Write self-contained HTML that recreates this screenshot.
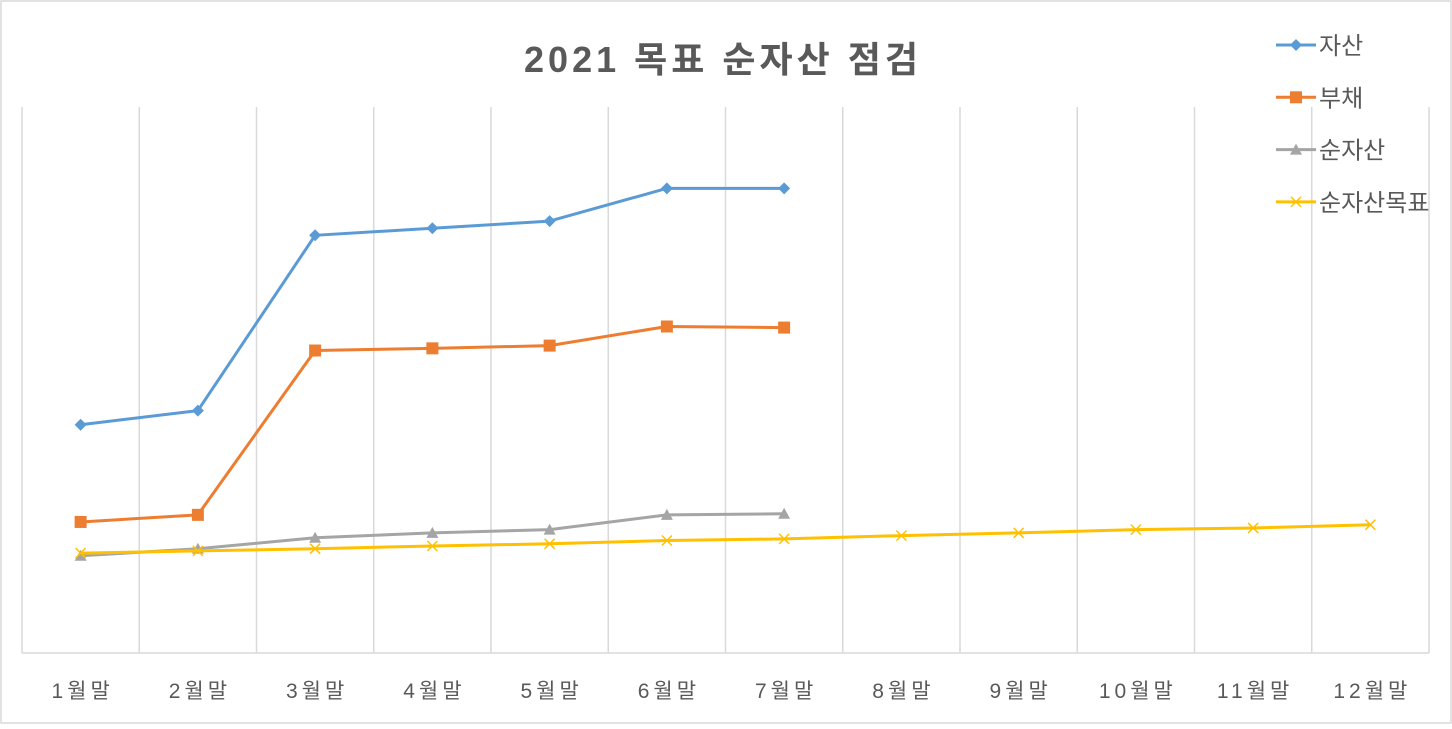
<!DOCTYPE html>
<html><head><meta charset="utf-8"><style>
body{margin:0;background:#fff;}
svg text{font-family:"Liberation Sans","Noto Sans CJK KR",sans-serif;}
</style></head><body>
<svg id="chart" width="1452" height="724" xmlns="http://www.w3.org/2000/svg">
<rect x="1" y="1" width="1450" height="722" fill="#fff" stroke="#d9d9d9" stroke-width="1.5"/>
<text x="723" y="72" text-anchor="middle" font-size="36" font-weight="bold" fill="#595959" letter-spacing="4">2021 목표 순자산 점검</text>
<g id="grid"></g><g id="series"></g><g id="xlabels"></g><g id="legend"></g>
</svg>
<script>
const categories=["1월말","2월말","3월말","4월말","5월말","6월말","7월말","8월말","9월말","10월말","11월말","12월말"];
const assets=[41.8,44.4,76.5,77.8,79.1,85.1,85.1];
const debts=[24.0,25.3,55.4,55.8,56.3,59.8,59.6];
const netAssets=[17.8,19.1,21.1,22.0,22.6,25.3,25.5];
const netTarget=[18.3,18.7,19.1,19.6,20.0,20.6,20.9,21.5,22.0,22.6,22.9,23.5];
const seriesNames=["자산","부채","순자산","순자산목표"];
const NS="http://www.w3.org/2000/svg";
const L=22,R=1429,T=107,B=653,yMax=100;
const bw=(R-L)/categories.length;
const xS=i=>L+bw*(i+0.5);
const yS=v=>B-(v/yMax)*(B-T);
function mk(t,a,p){const e=document.createElementNS(NS,t);for(const k in a)e.setAttribute(k,a[k]);p.appendChild(e);return e;}
const grid=document.getElementById('grid');
for(let i=0;i<=categories.length;i++){
 const l=mk('line',{x1:L+bw*i,x2:L+bw*i,y1:T,y2:B,stroke:'#d9d9d9','stroke-width':1.5},grid);
 
 
}
const ax=mk('line',{x1:L,x2:R,y1:B,y2:B,stroke:'#d9d9d9','stroke-width':1.5},grid);


const xl=document.getElementById('xlabels');
categories.forEach((c,i)=>{
 const t=mk('text',{x:xS(i)+2,y:698,'text-anchor':'middle','font-size':21,fill:'#595959','letter-spacing':'4'},xl);
 t.textContent=c;
 
 
});
const colors=["#5b9bd5","#ed7d31","#a5a5a5","#ffc000"];
const markers=["diamond","square","triangle","x"];
function marker(type,x,y,col,p){
 let e;
 if(type==="diamond")e=mk('polygon',{points:`${x},${y-6} ${x+6},${y} ${x},${y+6} ${x-6},${y}`,fill:col},p);
 else if(type==="square")e=mk('rect',{x:x-6,y:y-6,width:12,height:12,fill:col},p);
 else if(type==="triangle")e=mk('polygon',{points:`${x},${y-6} ${x+6},${y+5} ${x-6},${y+5}`,fill:col},p);
 else e=mk('path',{d:`M${x-5},${y-5}L${x+5},${y+5}M${x+5},${y-5}L${x-5},${y+5}`,stroke:col,'stroke-width':1.5,fill:'none'},p);
 return e;
}
const sg=document.getElementById('series');
[assets,debts,netAssets,netTarget].forEach((d,s)=>{
 const g=mk('g',{},sg);
 
 
 const pl=mk('polyline',{points:d.map((v,i)=>xS(i)+','+yS(v)).join(' '),fill:'none',stroke:colors[s],'stroke-width':3,'stroke-linejoin':'round'},g);
 
 
 d.forEach((v,i)=>{
  const m=marker(markers[s],xS(i),yS(v),colors[s],g);
  
  
 });
});
const lg=document.getElementById('legend');
seriesNames.forEach((n,s)=>{
 const y=45+s*52.3;
 const g=mk('g',{},lg);
 
 
 mk('line',{x1:1276,x2:1316,y1:y,y2:y,stroke:colors[s],'stroke-width':3},g);
 marker(markers[s],1296,y,colors[s],g);
 const t=mk('text',{x:1319,y:y+9,'font-size':24,fill:'#595959'},g);
 t.textContent=n;
});
</script>
</body></html>
